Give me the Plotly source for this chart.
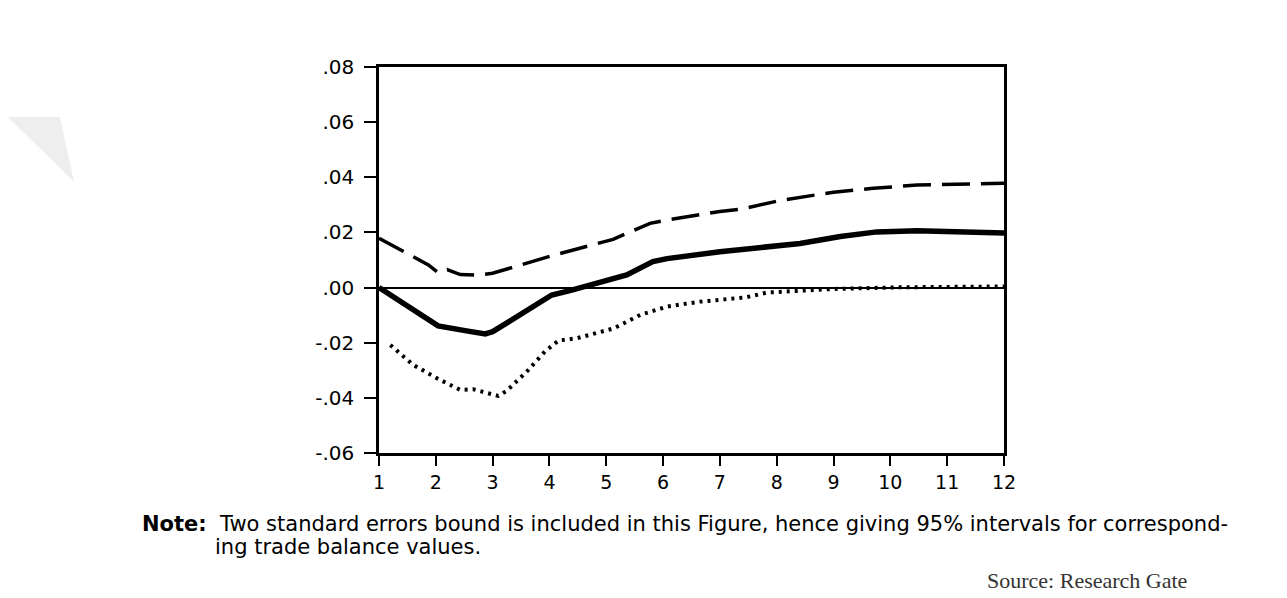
import plotly.graph_objects as go

# Impulse response of the trade balance with its two-standard-error bands
resp_x = [1, 1.55, 2.04, 2.54, 2.87, 3.0, 3.6, 4.04, 4.36, 4.77, 5.0, 5.36, 5.82, 6.07,
          7.0, 7.53, 8.41, 9.12, 9.76, 10.47, 11.23, 12]
resp_y = [0.0, -0.0075, -0.0139, -0.0157, -0.0168, -0.016, -0.0081, -0.0027, -0.0011,
          0.0013, 0.0022, 0.0046, 0.0094, 0.0105, 0.013, 0.0143, 0.016, 0.0185, 0.0202,
          0.0206, 0.0203, 0.0198]

upper_x = [1, 1.87, 2.04, 2.2, 2.43, 2.72, 3.0, 4.07, 5.12, 5.77, 6.07, 7.0, 7.36, 8.06,
           9.0, 9.7, 10.47, 11.23, 12]
upper_y = [0.0179, 0.0082, 0.0054, 0.0065, 0.0047, 0.0045, 0.0052, 0.0117, 0.0175, 0.0233,
           0.0245, 0.0276, 0.0284, 0.0316, 0.0346, 0.036, 0.0372, 0.0376, 0.0378]

lower_x = [1.2, 1.6, 2.02, 2.43, 2.66, 2.9, 3.1, 3.25, 3.6, 3.92, 4.16, 4.48, 5.13, 5.6,
           6.07, 6.65, 7.47, 7.83, 8.59, 9.0, 10.17, 12]
lower_y = [-0.0208, -0.028, -0.0329, -0.0371, -0.0369, -0.0383, -0.0393, -0.0374, -0.0305,
           -0.0232, -0.0192, -0.0184, -0.0148, -0.0099, -0.0069, -0.0051, -0.0035, -0.0018,
           -0.0011, -0.0005, 0.0001, 0.0004]

x_ticks = list(range(1, 13))
y_ticks = [0.08, 0.06, 0.04, 0.02, 0.0, -0.02, -0.04, -0.06]
y_tick_labels = [".08", ".06", ".04", ".02", ".00", "-.02", "-.04", "-.06"]

note_line1 = ("<b>Note:</b>  Two standard errors bound is included in this Figure, "
              "hence giving 95% intervals for correspond-")
note_line2 = "ing trade balance values."
source_text = "Source: Research Gate"

W, H = 1287, 598
L, R, T, B = 379, 1004, 67, 453


def px(x):
    return (x - L) / (R - L)


def py(y):
    return (B - y) / (B - T)


fig = go.Figure()
fig.add_trace(go.Scatter(x=upper_x, y=upper_y, mode="lines",
                         line=dict(color="black", width=3.5, dash="28px,11px")))
fig.add_trace(go.Scatter(x=lower_x, y=lower_y, mode="lines",
                         line=dict(color="black", width=4, dash="3px,5px")))
fig.add_trace(go.Scatter(x=resp_x, y=resp_y, mode="lines",
                         line=dict(color="black", width=5.5)))

sans = "DejaVu Sans, sans-serif"

fig.update_layout(
    width=W, height=H,
    margin=dict(l=L, r=W - R, t=T, b=H - B),
    paper_bgcolor="white", plot_bgcolor="white",
    showlegend=False,
    font=dict(family=sans, color="black", size=20),
    xaxis=dict(range=[1, 12], tickvals=x_ticks, ticks="outside", ticklen=10, tickwidth=2,
               tickcolor="black", showline=True, linecolor="black", linewidth=2.5,
               mirror=True, showgrid=False, zeroline=False,
               tickfont=dict(family=sans, size=19)),
    yaxis=dict(range=[-0.06, 0.08], tickvals=y_ticks, ticktext=y_tick_labels,
               ticks="outside", ticklen=12, tickwidth=2, tickcolor="black",
               ticklabelstandoff=6,
               showline=True, linecolor="black", linewidth=2.5, mirror=True,
               showgrid=False, zeroline=True, zerolinecolor="black", zerolinewidth=1.5,
               tickfont=dict(family=sans, size=20)),
    shapes=[
        dict(type="path", xref="paper", yref="paper", layer="below",
             path=f"M {px(8)},{py(117)} L {px(60)},{py(117)} L {px(74)},{py(182)} Z",
             fillcolor="#eeeeee", line=dict(width=0)),
    ],
    annotations=[
        dict(text=note_line1, xref="paper", yref="paper", x=px(140), y=py(524),
             xanchor="left", yanchor="middle", showarrow=False,
             font=dict(family=sans, size=21)),
        dict(text=note_line2, xref="paper", yref="paper", x=px(213), y=py(547),
             xanchor="left", yanchor="middle", showarrow=False,
             font=dict(family=sans, size=21)),
        dict(text=source_text, xref="paper", yref="paper", x=px(985), y=py(580),
             xanchor="left", yanchor="middle", showarrow=False,
             font=dict(family="Liberation Serif, Times New Roman, serif", size=22,
                       color="#333333")),
    ],
)

fig.write_html("out.html")
